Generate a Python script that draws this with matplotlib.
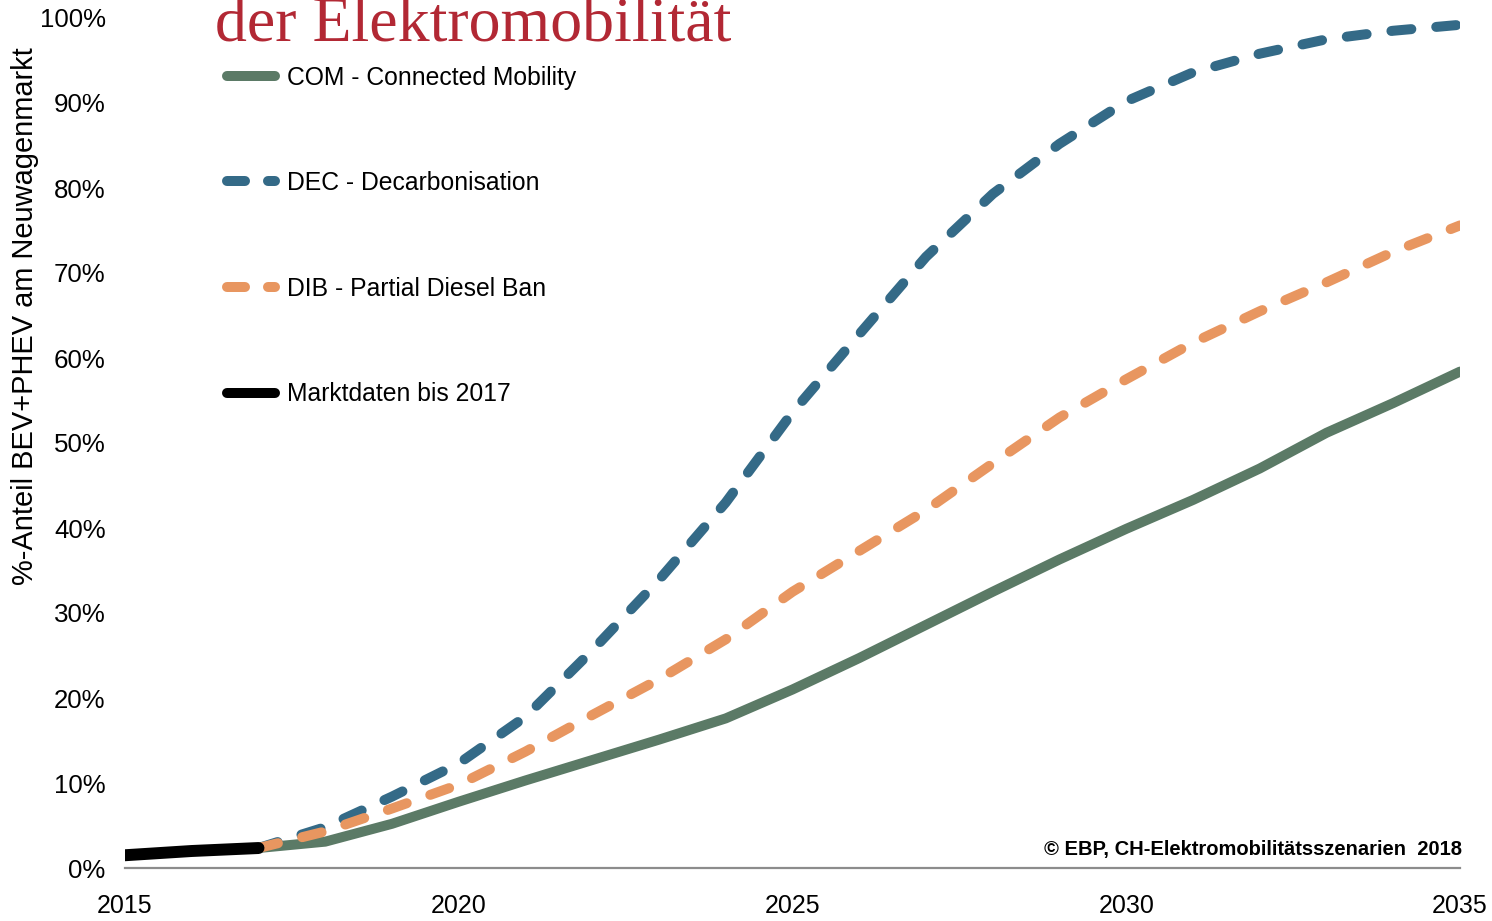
import matplotlib
matplotlib.use("Agg")
import matplotlib.pyplot as plt
from matplotlib.lines import Line2D

# --- data -------------------------------------------------------------
years_market = [2015, 2016, 2017]
share_market = [1.5, 2.0, 2.35]

years = list(range(2017, 2036))
share_com = [2.35, 3.1, 5.2, 7.8, 10.3, 12.7, 15.1, 17.6, 21.0, 24.7,
             28.6, 32.5, 36.3, 39.9, 43.3, 47.0, 51.2, 54.7, 58.4]
share_dec = [2.35, 4.8, 8.4, 12.3, 17.8, 25.6, 33.9, 43.0, 53.6, 62.8,
             71.9, 79.3, 85.2, 90.2, 93.6, 95.8, 97.5, 98.5, 99.2]
share_dib = [2.35, 4.3, 7.0, 9.8, 13.7, 18.0, 22.2, 26.9, 32.5, 37.3,
             42.1, 47.6, 53.0, 57.5, 61.8, 65.5, 68.9, 72.5, 75.6]

x_ticks = [2015, 2020, 2025, 2030, 2035]
y_ticks = [0, 10, 20, 30, 40, 50, 60, 70, 80, 90, 100]

labels = ["COM - Connected Mobility", "DEC - Decarbonisation",
          "DIB - Partial Diesel Ban", "Marktdaten bis 2017"]
colors = ["#5B7A66", "#346A87", "#E89660", "#000000"]

title = "der Elektromobilität"
y_label = "%-Anteil BEV+PHEV am Neuwagenmarkt"
credit = "© EBP, CH-Elektromobilitätsszenarien  2018"

SANS = "Liberation Sans"
SERIF = "Liberation Serif"

W, H, DPI = 1492, 921, 100
fig = plt.figure(figsize=(W / DPI, H / DPI), dpi=DPI)
ax = fig.add_axes([125 / W, (H - 868) / H, (1460 - 125) / W, (868 - 18) / H])

LW = 7.2           # about 10 px
DASH = (2.0, 2.5)  # in multiples of the line width

ax.plot(years, share_com, color=colors[0], lw=LW, solid_capstyle="round",
        solid_joinstyle="round", zorder=2, label=labels[0])
ax.plot(years, share_dec, color=colors[1], lw=LW, linestyle=(0, DASH),
        dash_capstyle="round", zorder=3, label=labels[1])
ax.plot(years, share_dib, color=colors[2], lw=LW, linestyle=(0, DASH),
        dash_capstyle="round", zorder=4, label=labels[2])
ax.plot(years_market, share_market, color=colors[3], lw=8.6,
        solid_capstyle="round", zorder=5, label=labels[3])

ax.set_xlim(2015, 2035)
ax.set_ylim(0, 100)
ax.set_xticks(x_ticks)
ax.set_xticklabels([str(v) for v in x_ticks], fontfamily=SANS, fontsize=18)
ax.set_yticks(y_ticks)
ax.set_yticklabels([f"{v}%" for v in y_ticks], fontfamily=SANS, fontsize=18.6)
ax.tick_params(axis="both", length=0)
ax.tick_params(axis="y", pad=14)
ax.tick_params(axis="x", pad=19)

for side in ("top", "right", "left"):
    ax.spines[side].set_visible(False)
ax.spines["bottom"].set_color("#8C8C8C")
ax.spines["bottom"].set_linewidth(1.6)
ax.patch.set_visible(False)

# legend
LEG_DASH = (1.8, 2.3)
handles = [
    Line2D([], [], color=colors[0], lw=LW, solid_capstyle="round"),
    Line2D([], [], color=colors[1], lw=LW, linestyle=(0, LEG_DASH), dash_capstyle="round"),
    Line2D([], [], color=colors[2], lw=LW, linestyle=(0, LEG_DASH), dash_capstyle="round"),
    Line2D([], [], color=colors[3], lw=LW, solid_capstyle="round"),
]
fig.legend(handles, labels, loc="upper left",
           bbox_to_anchor=(227 / W, 1 - 65.5 / H), bbox_transform=fig.transFigure,
           frameon=False, borderpad=0, borderaxespad=0,
           handlelength=1.94, handletextpad=0.49, labelspacing=3.3,
           prop={"family": SANS, "size": 17.8})

# title, axis caption and credit line
fig.text(215 / W, 1 - 42 / H, title, family=SERIF, fontsize=46,
         color="#B22834", ha="left", va="baseline")
fig.text(25 / W, 1 - 316 / H, y_label, family=SANS, fontsize=20.9,
         rotation=90, ha="center", va="center")
fig.text(1462 / W, 1 - 849 / H, credit, family=SANS, fontsize=14.5,
         fontweight="bold", ha="right", va="center")

fig.savefig("out.png", dpi=DPI, facecolor="white")
